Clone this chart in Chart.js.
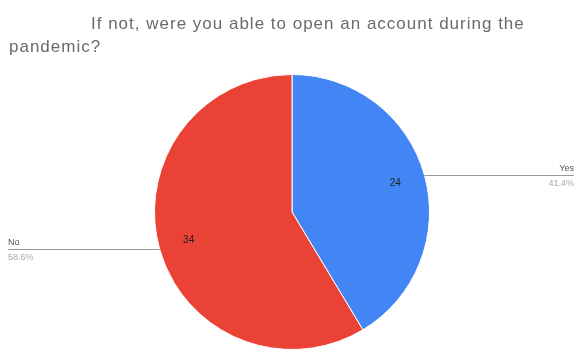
<!DOCTYPE html>
<html>
<head>
<meta charset="utf-8">
<script src="https://cdn.jsdelivr.net/npm/chart.js@4/dist/chart.umd.min.js"></script>
<style>
  html, body { margin: 0; padding: 0; background: #fff; }
  #wrap { width: 579px; height: 352px; position: relative; }
</style>
</head>
<body>
<div id="wrap"><canvas id="myChart"></canvas></div>
<script>
const categories = ["Yes", "No"];
const counts = [24, 34];
const colors = ["#4285F4", "#EA4335"];

const titleLines = ["If not, were you able to open an account during the", "pandemic?"];

// title, drawn the way the sheet places it (first line indented)
const titlePlugin = {
  id: "sheetTitle",
  afterDraw(chart) {
    const c = chart.ctx;
    c.save();
    c.fillStyle = "#6a6a6a";
    c.font = "17px 'Liberation Sans', Arial, sans-serif";
    c.letterSpacing = "1px";
    c.textBaseline = "alphabetic";
    c.fillText(titleLines[0], 91, 29);
    c.fillText(titleLines[1], 9, 52);
    c.restore();
  }
};

// values inside slices and leader lines out to the side with name + percent
const labelPlugin = {
  id: "sliceLabels",
  afterDatasetsDraw(chart) {
    const c = chart.ctx;
    const meta = chart.getDatasetMeta(0);
    const total = counts.reduce((a, b) => a + b, 0);
    const W = chart.width;
    c.save();
    meta.data.forEach((arc, i) => {
      const mid = (arc.startAngle + arc.endAngle) / 2;
      const r = arc.outerRadius;
      const ex = arc.x + Math.cos(mid) * r;
      const ey = arc.y + Math.sin(mid) * r;

      // value
      c.fillStyle = "#222";
      c.font = "10px 'Liberation Sans', Arial, sans-serif";
      c.textAlign = "center";
      c.textBaseline = "middle";
      c.fillText(String(counts[i]), arc.x + Math.cos(mid) * r * 0.78, arc.y + Math.sin(mid) * r * 0.78);

      // leader line
      const right = Math.cos(mid) > 0;
      const endX = right ? W - 5 : 8;
      c.strokeStyle = "#999";
      c.lineWidth = 1;
      c.beginPath();
      c.moveTo(ex, Math.round(ey) + 0.5);
      c.lineTo(endX, Math.round(ey) + 0.5);
      c.stroke();

      c.textAlign = right ? "right" : "left";
      c.textBaseline = "alphabetic";
      c.fillStyle = "#555";
      c.font = "9px 'Liberation Sans', Arial, sans-serif";
      c.fillText(categories[i], endX, ey - 4);
      c.fillStyle = "#aaa";
      const pct = (counts[i] / total * 100).toFixed(1) + "%";
      c.fillText(pct, endX, ey + 11);
    });
    c.restore();
  }
};

new Chart(document.getElementById("myChart"), {
  type: "pie",
  data: {
    labels: categories,
    datasets: [
      {
        data: counts,
        backgroundColor: colors,
        borderColor: "#fff",
        borderWidth: 1,
      }
    ],
  },
  plugins: [titlePlugin, labelPlugin],
  options: {
    responsive: true,
    maintainAspectRatio: false,
    animation: false,
    layout: {
      padding: { top: 74, bottom: 2, left: 5, right: 0 }
    },
    plugins: {
      legend: { display: false },
      tooltip: { enabled: false },
      title: { display: false }
    },
  },
});
</script>
</body>
</html>
